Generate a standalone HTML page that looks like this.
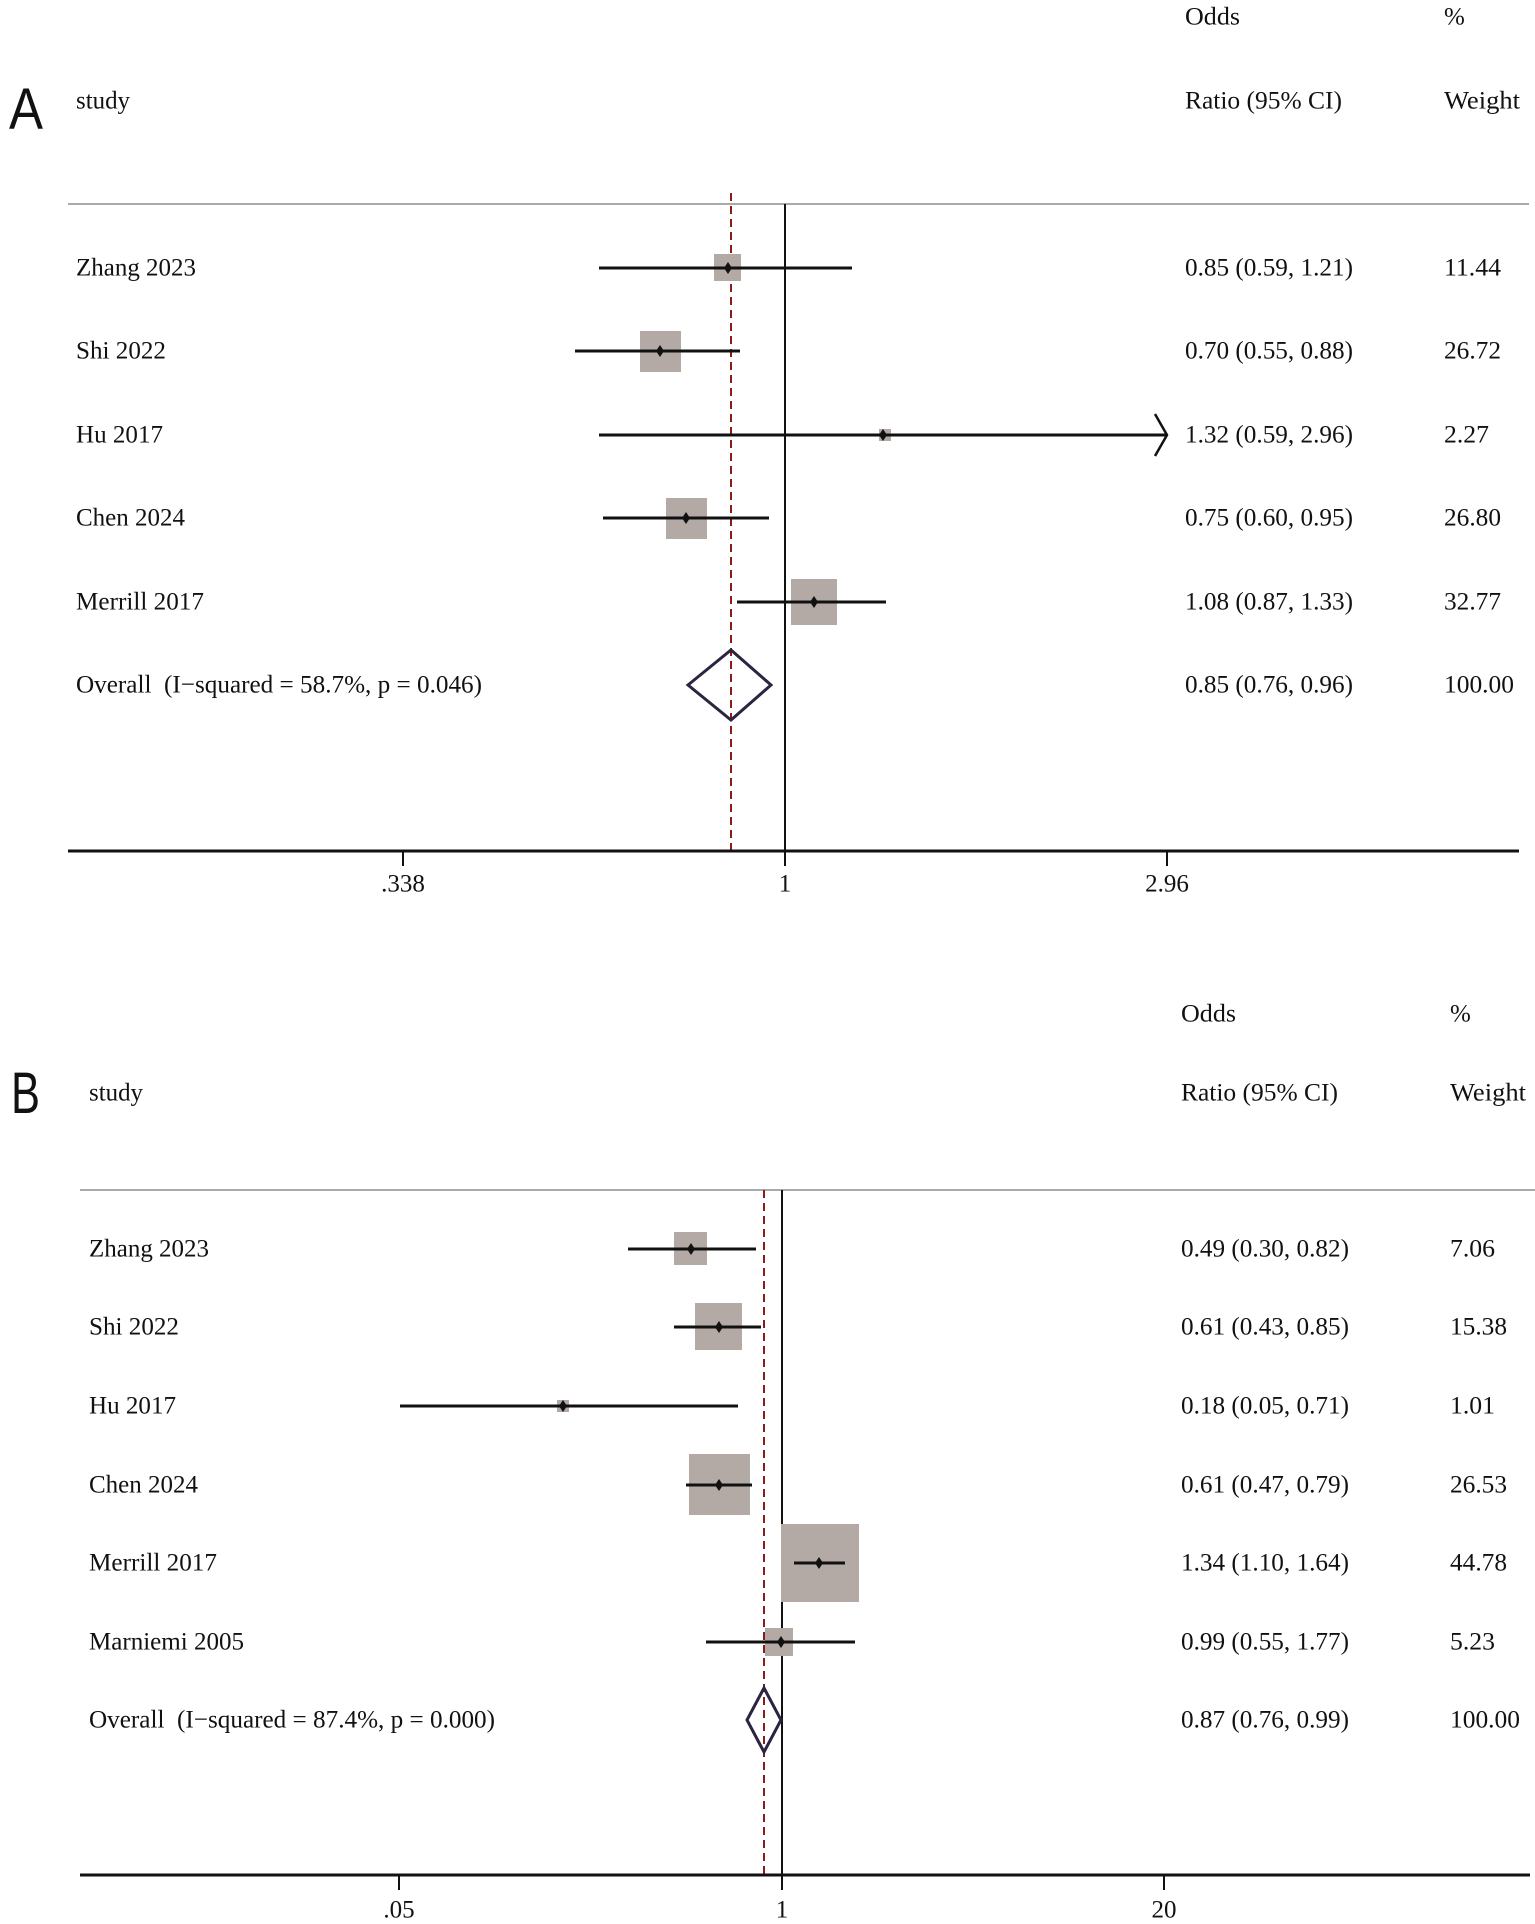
<!DOCTYPE html>
<html><head><meta charset="utf-8"><style>html,body{margin:0;padding:0;background:#fff}svg{display:block}text{font-family:"Liberation Serif",serif;font-size:25px;fill:#111;dominant-baseline:central}.L{font-family:"Liberation Sans",sans-serif;font-size:58px;dominant-baseline:auto}</style></head><body>
<svg width="1535" height="1924" viewBox="0 0 1535 1924" xmlns="http://www.w3.org/2000/svg">
<!-- Panel A -->
<text class="L" x="9" y="129" textLength="34" lengthAdjust="spacingAndGlyphs">A</text>
<text x="1185" y="17" textLength="55" lengthAdjust="spacingAndGlyphs">Odds</text>
<text x="1444" y="17">%</text>
<text x="76" y="101" textLength="54" lengthAdjust="spacingAndGlyphs">study</text>
<text x="1185" y="101" textLength="157" lengthAdjust="spacingAndGlyphs">Ratio (95% CI)</text>
<text x="1444" y="101" textLength="76" lengthAdjust="spacingAndGlyphs">Weight</text>
<line x1="68" y1="204" x2="1529" y2="204" stroke="#aaa" stroke-width="2"/>
<line x1="785" y1="204" x2="785" y2="851" stroke="#111" stroke-width="2"/>
<line x1="731" y1="193" x2="731" y2="851" stroke="#8b1a1a" stroke-width="2" stroke-dasharray="8,5"/>
<line x1="68" y1="851" x2="1519" y2="851" stroke="#111" stroke-width="3"/>
<g stroke="#111" stroke-width="2"><line x1="403" y1="851" x2="403" y2="866"/><line x1="785" y1="851" x2="785" y2="866"/><line x1="1167" y1="851" x2="1167" y2="866"/></g>
<text x="403" y="884" text-anchor="middle">.338</text>
<text x="785" y="884" text-anchor="middle">1</text>
<text x="1167" y="884" text-anchor="middle">2.96</text>
<g fill="#b3aaa6">
<rect x="714" y="254" width="27" height="27"/>
<rect x="640" y="331" width="41" height="41"/>
<rect x="879" y="429" width="12" height="12"/>
<rect x="666" y="498" width="41" height="41"/>
<rect x="791" y="579" width="46" height="46"/>
</g>
<g stroke="#111" stroke-width="3" fill="none">
<line x1="599" y1="268" x2="852" y2="268"/>
<line x1="575" y1="351" x2="740" y2="351"/>
<line x1="599" y1="435" x2="1167" y2="435"/>
<polyline points="1155,414 1167,435 1155,456" stroke-width="2.5"/>
<line x1="603" y1="518" x2="769" y2="518"/>
<line x1="737" y1="602" x2="886" y2="602"/>
</g>
<g fill="#111">
<path d="M728,262 l4,6 l-4,6 l-4,-6z"/>
<path d="M660,345 l4,6 l-4,6 l-4,-6z"/>
<path d="M883,429 l4,6 l-4,6 l-4,-6z"/>
<path d="M686,512 l4,6 l-4,6 l-4,-6z"/>
<path d="M814,596 l4,6 l-4,6 l-4,-6z"/>
</g>
<path d="M688,685 L731,650 L771,685 L731,720 Z" fill="none" stroke="#2c2440" stroke-width="3"/>
<text x="76" y="268" textLength="120" lengthAdjust="spacingAndGlyphs">Zhang 2023</text>
<text x="76" y="351" textLength="90" lengthAdjust="spacingAndGlyphs">Shi 2022</text>
<text x="76" y="435" textLength="87" lengthAdjust="spacingAndGlyphs">Hu 2017</text>
<text x="76" y="518" textLength="109" lengthAdjust="spacingAndGlyphs">Chen 2024</text>
<text x="76" y="602" textLength="128" lengthAdjust="spacingAndGlyphs">Merrill 2017</text>
<text x="76" y="685" textLength="406" lengthAdjust="spacingAndGlyphs" xml:space="preserve">Overall  (I−squared = 58.7%, p = 0.046)</text>
<g>
<text x="1185" y="268" textLength="168" lengthAdjust="spacingAndGlyphs">0.85 (0.59, 1.21)</text>
<text x="1185" y="351" textLength="168" lengthAdjust="spacingAndGlyphs">0.70 (0.55, 0.88)</text>
<text x="1185" y="435" textLength="168" lengthAdjust="spacingAndGlyphs">1.32 (0.59, 2.96)</text>
<text x="1185" y="518" textLength="168" lengthAdjust="spacingAndGlyphs">0.75 (0.60, 0.95)</text>
<text x="1185" y="602" textLength="168" lengthAdjust="spacingAndGlyphs">1.08 (0.87, 1.33)</text>
<text x="1185" y="685" textLength="168" lengthAdjust="spacingAndGlyphs">0.85 (0.76, 0.96)</text>
<text x="1444" y="268" textLength="57" lengthAdjust="spacingAndGlyphs">11.44</text>
<text x="1444" y="351" textLength="57" lengthAdjust="spacingAndGlyphs">26.72</text>
<text x="1444" y="435" textLength="45" lengthAdjust="spacingAndGlyphs">2.27</text>
<text x="1444" y="518" textLength="57" lengthAdjust="spacingAndGlyphs">26.80</text>
<text x="1444" y="602" textLength="57" lengthAdjust="spacingAndGlyphs">32.77</text>
<text x="1444" y="685" textLength="70" lengthAdjust="spacingAndGlyphs">100.00</text>
</g>
<!-- Panel B -->
<text class="L" x="11" y="1113" textLength="29" lengthAdjust="spacingAndGlyphs">B</text>
<text x="1181" y="1014" textLength="55" lengthAdjust="spacingAndGlyphs">Odds</text>
<text x="1450" y="1014">%</text>
<text x="89" y="1093" textLength="54" lengthAdjust="spacingAndGlyphs">study</text>
<text x="1181" y="1093" textLength="157" lengthAdjust="spacingAndGlyphs">Ratio (95% CI)</text>
<text x="1450" y="1093" textLength="76" lengthAdjust="spacingAndGlyphs">Weight</text>
<line x1="80" y1="1190" x2="1535" y2="1190" stroke="#aaa" stroke-width="2"/>
<line x1="782" y1="1190" x2="782" y2="1875" stroke="#111" stroke-width="2"/>
<line x1="764" y1="1190" x2="764" y2="1875" stroke="#8b1a1a" stroke-width="2" stroke-dasharray="8,5"/>
<line x1="80" y1="1875" x2="1530" y2="1875" stroke="#111" stroke-width="3"/>
<g stroke="#111" stroke-width="2"><line x1="399" y1="1875" x2="399" y2="1890"/><line x1="782" y1="1875" x2="782" y2="1890"/><line x1="1164" y1="1875" x2="1164" y2="1890"/></g>
<text x="399" y="1910" text-anchor="middle">.05</text>
<text x="782" y="1910" text-anchor="middle">1</text>
<text x="1164" y="1910" text-anchor="middle">20</text>
<g fill="#b3aaa6">
<rect x="674" y="1232" width="33" height="33"/>
<rect x="695" y="1303" width="47" height="47"/>
<rect x="557" y="1400" width="12" height="12"/>
<rect x="689" y="1454" width="61" height="61"/>
<rect x="781" y="1524" width="78" height="78"/>
<rect x="765" y="1628" width="28" height="28"/>
</g>
<g stroke="#111" stroke-width="3">
<line x1="628" y1="1249" x2="756" y2="1249"/>
<line x1="674" y1="1327" x2="761" y2="1327"/>
<line x1="400" y1="1406" x2="738" y2="1406"/>
<line x1="686" y1="1485" x2="752" y2="1485"/>
<line x1="794" y1="1563" x2="845" y2="1563"/>
<line x1="706" y1="1642" x2="855" y2="1642"/>
</g>
<g fill="#111">
<path d="M691,1243 l4,6 l-4,6 l-4,-6z"/>
<path d="M719,1321 l4,6 l-4,6 l-4,-6z"/>
<path d="M563,1400 l4,6 l-4,6 l-4,-6z"/>
<path d="M719,1479 l4,6 l-4,6 l-4,-6z"/>
<path d="M819,1557 l4,6 l-4,6 l-4,-6z"/>
<path d="M781,1636 l4,6 l-4,6 l-4,-6z"/>
</g>
<path d="M747,1720 L764,1688 L781,1720 L764,1752 Z" fill="none" stroke="#2c2440" stroke-width="3"/>
<text x="89" y="1249" textLength="120" lengthAdjust="spacingAndGlyphs">Zhang 2023</text>
<text x="89" y="1327" textLength="90" lengthAdjust="spacingAndGlyphs">Shi 2022</text>
<text x="89" y="1406" textLength="87" lengthAdjust="spacingAndGlyphs">Hu 2017</text>
<text x="89" y="1485" textLength="109" lengthAdjust="spacingAndGlyphs">Chen 2024</text>
<text x="89" y="1563" textLength="128" lengthAdjust="spacingAndGlyphs">Merrill 2017</text>
<text x="89" y="1642" textLength="155" lengthAdjust="spacingAndGlyphs">Marniemi 2005</text>
<text x="89" y="1720" textLength="406" lengthAdjust="spacingAndGlyphs" xml:space="preserve">Overall  (I−squared = 87.4%, p = 0.000)</text>
<text x="1181" y="1249" textLength="168" lengthAdjust="spacingAndGlyphs">0.49 (0.30, 0.82)</text>
<text x="1181" y="1327" textLength="168" lengthAdjust="spacingAndGlyphs">0.61 (0.43, 0.85)</text>
<text x="1181" y="1406" textLength="168" lengthAdjust="spacingAndGlyphs">0.18 (0.05, 0.71)</text>
<text x="1181" y="1485" textLength="168" lengthAdjust="spacingAndGlyphs">0.61 (0.47, 0.79)</text>
<text x="1181" y="1563" textLength="168" lengthAdjust="spacingAndGlyphs">1.34 (1.10, 1.64)</text>
<text x="1181" y="1642" textLength="168" lengthAdjust="spacingAndGlyphs">0.99 (0.55, 1.77)</text>
<text x="1181" y="1720" textLength="168" lengthAdjust="spacingAndGlyphs">0.87 (0.76, 0.99)</text>
<text x="1450" y="1249" textLength="45" lengthAdjust="spacingAndGlyphs">7.06</text>
<text x="1450" y="1327" textLength="57" lengthAdjust="spacingAndGlyphs">15.38</text>
<text x="1450" y="1406" textLength="45" lengthAdjust="spacingAndGlyphs">1.01</text>
<text x="1450" y="1485" textLength="57" lengthAdjust="spacingAndGlyphs">26.53</text>
<text x="1450" y="1563" textLength="57" lengthAdjust="spacingAndGlyphs">44.78</text>
<text x="1450" y="1642" textLength="45" lengthAdjust="spacingAndGlyphs">5.23</text>
<text x="1450" y="1720" textLength="70" lengthAdjust="spacingAndGlyphs">100.00</text>
</svg>
</body></html>
